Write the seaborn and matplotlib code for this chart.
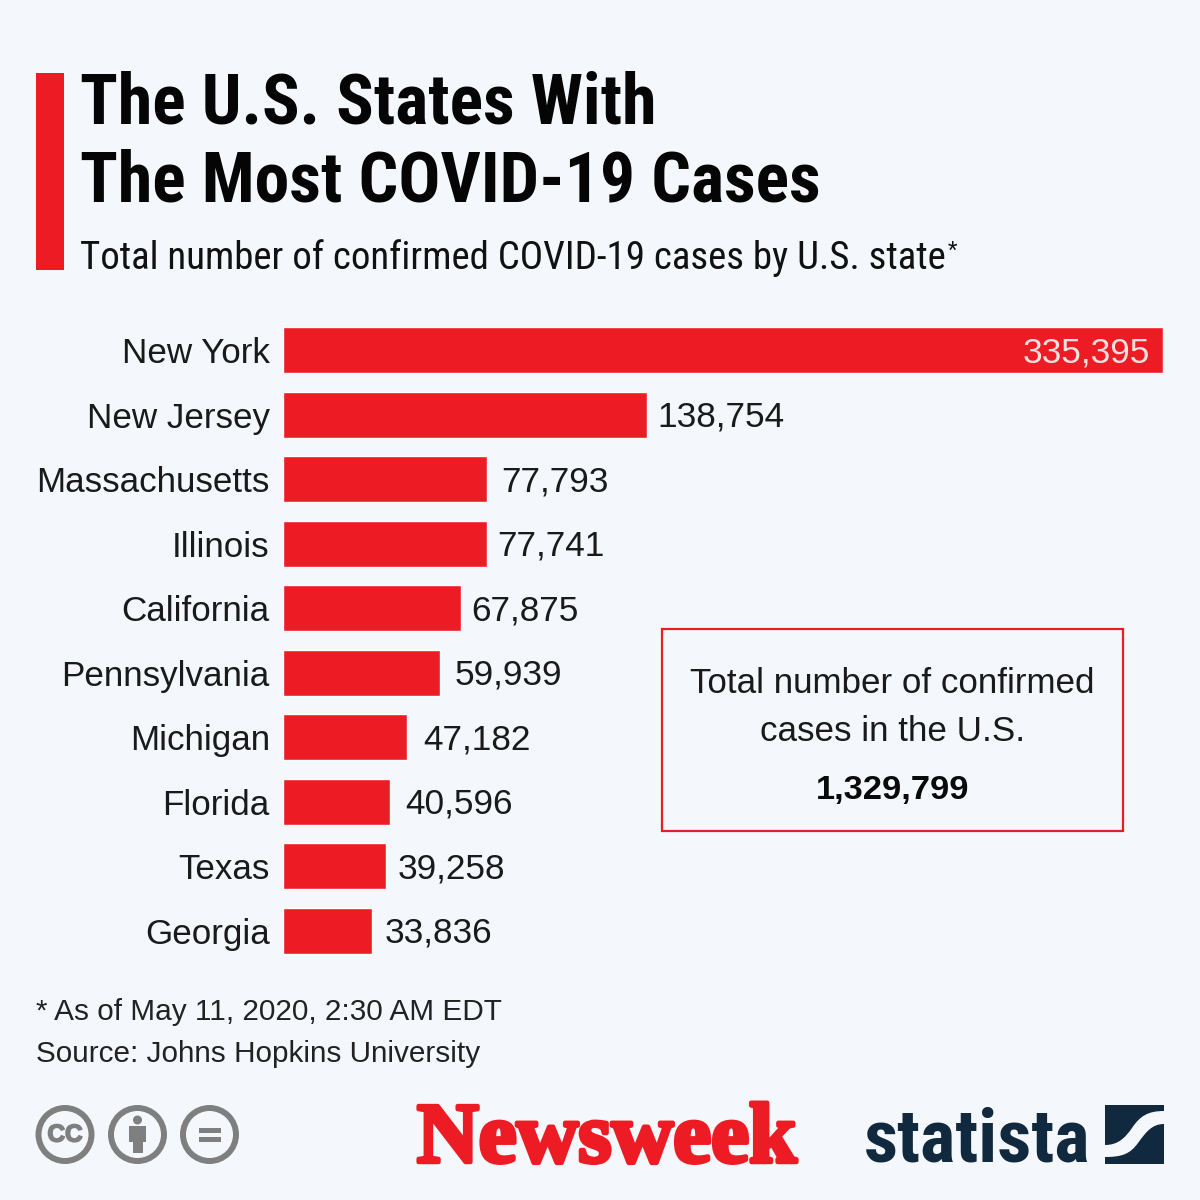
import numpy as np
import matplotlib
matplotlib.use('Agg')
import matplotlib.pyplot as plt
import matplotlib.patheffects as pe
from matplotlib.patches import Circle, Rectangle, PathPatch
from matplotlib.path import Path
import seaborn as sns

# Data
states = ['New York', 'New Jersey', 'Massachusetts', 'Illinois', 'California',
          'Pennsylvania', 'Michigan', 'Florida', 'Texas', 'Georgia']
cases = [335395, 138754, 77793, 77741, 67875, 59939, 47182, 40596, 39258, 33836]
# gap between bar end and value label, px (uneven in the original)
label_gaps = [0, 10, 14, 10, 10, 14, 16, 16, 12, 13]

title_lines = ['The U.S. States With', 'The Most COVID-19 Cases']
subtitle = 'Total number of confirmed COVID-19 cases by U.S. state'
footnotes = ['* As of May 11, 2020, 2:30 AM EDT', 'Source: Johns Hopkins University']
box_lines = ['Total number of confirmed', 'cases in the U.S.']
box_total = '1,329,799'

BG = '#f4f8fc'
RED = '#ed1c24'
INK = '#1a1a1a'
GREY = '#7f7f7f'
NAVY = '#10293f'
SANS = 'Liberation Sans'
COND = 'Roboto Condensed'
LABEL_SIZE = 25.2
VALUE_SIZE = 25.4

sns.set_theme(style='white')
fig = plt.figure(figsize=(12, 12), dpi=100, facecolor=BG)

# Bars
ax = fig.add_axes([283.0/1200, 1-963/1200, 880/1200, 645/1200])
ax.patch.set_alpha(0)
sns.barplot(x=cases, y=states, color=RED, saturation=1, width=0.72, ax=ax)
ax.set_xlim(0, max(cases))
ax.set_xlabel('')
ax.set_ylabel('')
ax.xaxis.set_visible(False)
sns.despine(ax=ax, left=True, bottom=True)
ax.tick_params(axis='y', length=0, pad=9.5)
for lab in ax.get_yticklabels():
    lab.set_fontfamily(SANS)
    lab.set_fontsize(LABEL_SIZE)
    lab.set_color(INK)

for i, (v, gap) in enumerate(zip(cases, label_gaps)):
    txt = f'{v:,}'
    if i == 0:
        ax.annotate(txt, (v, i), xytext=(-13/100*72, 0.7), textcoords='offset points',
                    ha='right', va='center_baseline', color='#f7dfe0', family=SANS, fontsize=VALUE_SIZE)
    else:
        ax.annotate(txt, (v, i), xytext=(gap/100*72, 0.7), textcoords='offset points',
                    ha='left', va='center_baseline', color=INK, family=SANS, fontsize=VALUE_SIZE)

# Overlay in pixel coordinates for the header, box, footer and logos
ov = fig.add_axes([0, 0, 1, 1], zorder=5)
ov.set_xlim(0, 1200)
ov.set_ylim(1200, 0)
ov.axis('off')

ov.add_patch(Rectangle((36, 73), 28, 197, color=RED, lw=0))
ov.text(80, 123, title_lines[0], family=COND, weight='bold', fontsize=50.2, color='#050505', va='baseline')
ov.text(80, 202, title_lines[1], family=COND, weight='bold', fontsize=50.2, color='#050505', va='baseline')
ov.text(80, 269, subtitle, family=COND, weight='normal', fontsize=28.0, color='#111111', va='baseline')
ov.text(948, 257, '*', family=COND, fontsize=16, color='#111111', va='baseline')

# Total box
ov.add_patch(Rectangle((662, 629), 461, 202, fill=False, ec=RED, lw=1.6))
ov.text(892.5, 693, box_lines[0], family=SANS, fontsize=LABEL_SIZE, color=INK, ha='center', va='baseline')
ov.text(892.5, 741, box_lines[1], family=SANS, fontsize=LABEL_SIZE, color=INK, ha='center', va='baseline')
ov.text(892.5, 799, box_total, family=SANS, weight='bold', fontsize=24.8, color='#0a0a0a', ha='center', va='baseline')

# Footnotes
ov.text(36, 1020, footnotes[0], family=SANS, fontsize=21.4, color='#222222', va='baseline')
ov.text(36, 1062, footnotes[1], family=SANS, fontsize=21.4, color='#222222', va='baseline')

# Creative commons icons
for cx in (65, 137.5, 209.5):
    ov.add_patch(Circle((cx, 1134.5), 26.5, fill=False, ec=GREY, lw=4.3))
ov.text(65, 1135, 'CC', family=SANS, weight='bold', fontsize=17.5, color=GREY, ha='center', va='center',
        path_effects=[pe.withStroke(linewidth=1.2, foreground=GREY)])
ov.add_patch(Circle((137.5, 1120), 4.5, color=GREY, lw=0))
ov.add_patch(Rectangle((129, 1126), 17, 16, color=GREY, lw=0))
ov.add_patch(Rectangle((132.5, 1140), 10, 13, color=GREY, lw=0))
ov.add_patch(Rectangle((199, 1128), 22, 5, color=GREY, lw=0))
ov.add_patch(Rectangle((199, 1137), 22, 5, color=GREY, lw=0))

# Logos
ov.text(417, 1162, 'Newsweek', family='Liberation Serif', weight='bold', fontsize=61.5, color=RED, va='baseline',
        path_effects=[pe.withStroke(linewidth=3.2, foreground=RED)])
ov.text(864, 1162, 'statista', family=COND, weight='bold', fontsize=54, color=NAVY, va='baseline')
ov.add_patch(Rectangle((1105, 1105), 59, 59, color=NAVY, lw=0))
swoosh = Path([(1105, 1145), (1118, 1145), (1125, 1138), (1132, 1128),
               (1140, 1116), (1148, 1111), (1164, 1111), (1164, 1124),
               (1152, 1124), (1146, 1132), (1138, 1143), (1130, 1154),
               (1122, 1157), (1105, 1157), (1105, 1145)],
              [Path.MOVETO, Path.CURVE4, Path.CURVE4, Path.CURVE4,
               Path.CURVE4, Path.CURVE4, Path.CURVE4, Path.LINETO,
               Path.CURVE4, Path.CURVE4, Path.CURVE4, Path.CURVE4,
               Path.CURVE4, Path.CURVE4, Path.CLOSEPOLY])
ov.add_patch(PathPatch(swoosh, fc=BG, ec='none'))

fig.savefig('out.png', dpi=100, facecolor=BG)
